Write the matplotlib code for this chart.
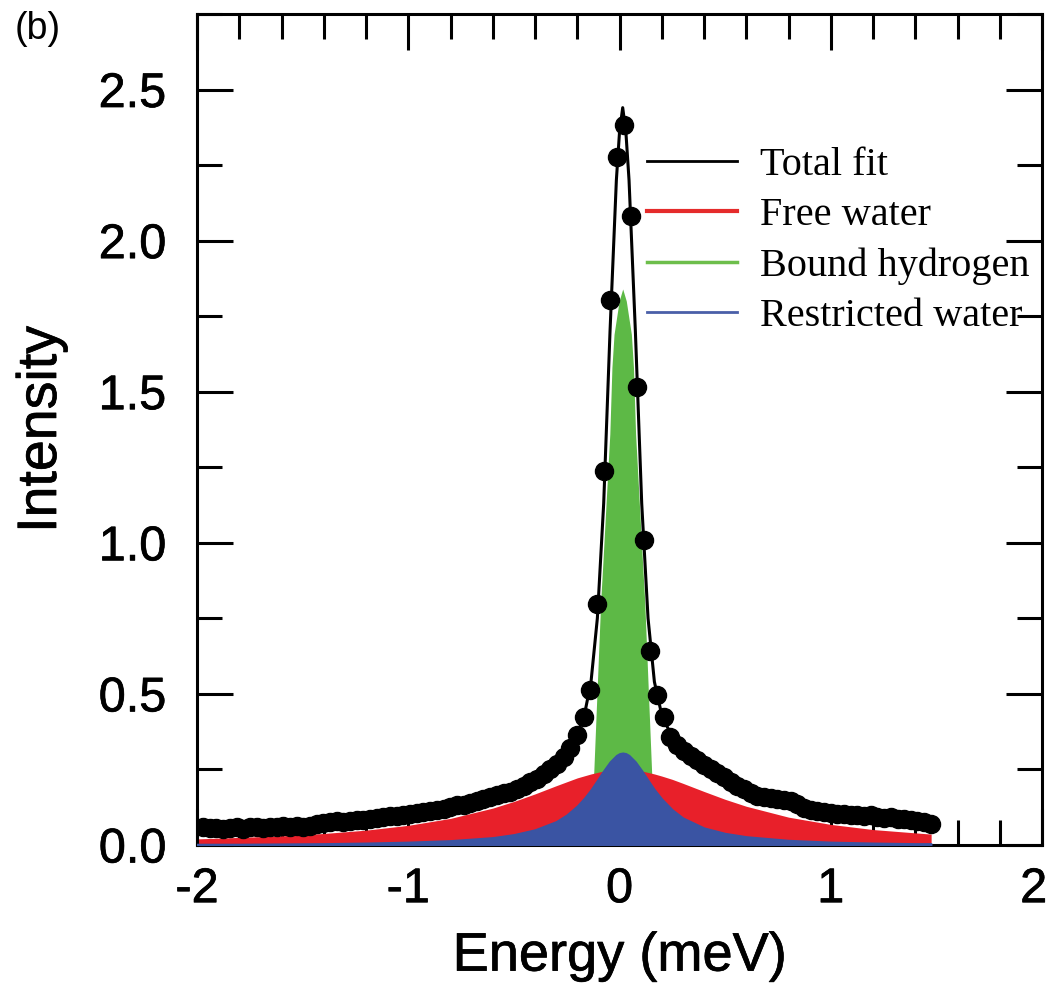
"""QENS spectrum with three-component fit: free water, bound hydrogen, restricted water."""

import matplotlib

matplotlib.use("Agg")

import matplotlib.patheffects as pe
import matplotlib.pyplot as plt
from matplotlib.ticker import FormatStrFormatter, MultipleLocator
from matplotlib.transforms import ScaledTranslation

# measured points (energy in meV, intensity)
data_energy = [
    -1.971, -1.939, -1.908, -1.876, -1.844, -1.813, -1.781, -1.750, -1.718, -1.686,
    -1.655, -1.623, -1.592, -1.560, -1.528, -1.497, -1.465, -1.434, -1.402, -1.370,
    -1.339, -1.307, -1.276, -1.244, -1.212, -1.181, -1.149, -1.118, -1.086, -1.054,
    -1.023, -0.991, -0.960, -0.928, -0.896, -0.865, -0.833, -0.802, -0.770, -0.738,
    -0.707, -0.675, -0.644, -0.612, -0.580, -0.549, -0.517, -0.486, -0.454, -0.422,
    -0.391, -0.359, -0.328, -0.296, -0.264, -0.233, -0.201, -0.170, -0.138, -0.106,
    -0.075, -0.043, -0.012, 0.020, 0.052, 0.083, 0.115, 0.146, 0.178, 0.210,
    0.241, 0.273, 0.304, 0.336, 0.368, 0.399, 0.431, 0.462, 0.494, 0.526,
    0.557, 0.589, 0.620, 0.652, 0.684, 0.715, 0.747, 0.778, 0.810, 0.842,
    0.873, 0.905, 0.936, 0.968, 1.000, 1.031, 1.063, 1.094, 1.126, 1.158,
    1.189, 1.221, 1.252, 1.284, 1.316, 1.347, 1.379, 1.410, 1.442, 1.474,
]
data_intensity = [
    0.058, 0.055, 0.057, 0.053, 0.056, 0.058, 0.054, 0.059, 0.060, 0.057,
    0.061, 0.059, 0.063, 0.060, 0.064, 0.058, 0.062, 0.071, 0.074, 0.076,
    0.078, 0.077, 0.080, 0.083, 0.081, 0.086, 0.089, 0.092, 0.095, 0.097,
    0.099, 0.103, 0.106, 0.108, 0.112, 0.117, 0.120, 0.125, 0.131, 0.133,
    0.139, 0.146, 0.151, 0.158, 0.165, 0.171, 0.176, 0.186, 0.196, 0.207,
    0.219, 0.234, 0.250, 0.268, 0.292, 0.320, 0.365, 0.424, 0.513, 0.797,
    1.237, 1.805, 2.278, 2.381, 2.080, 1.515, 1.009, 0.642, 0.496, 0.424,
    0.358, 0.330, 0.310, 0.295, 0.282, 0.265, 0.252, 0.238, 0.226, 0.210,
    0.196, 0.184, 0.172, 0.163, 0.160, 0.156, 0.152, 0.150, 0.146, 0.135,
    0.122, 0.117, 0.112, 0.108, 0.105, 0.104, 0.101, 0.098, 0.100, 0.096,
    0.099, 0.094, 0.090, 0.092, 0.087, 0.085, 0.082, 0.079, 0.076, 0.071,
]

# fit curves sampled on a shared energy grid
fit_energy = [
    -2.0, -1.8, -1.6, -1.4, -1.2, -1.0, -0.8, -0.6, -0.5, -0.4,
    -0.3, -0.25, -0.2, -0.165, -0.135, -0.105, -0.075, -0.045, -0.015, 0.0,
    0.015, 0.03, 0.045, 0.075, 0.105, 0.135, 0.165, 0.2, 0.25, 0.3,
    0.4, 0.5, 0.6, 0.8, 1.0, 1.2, 1.4, 1.475,
]
total_fit = [
    0.055, 0.060, 0.063, 0.075, 0.083, 0.101, 0.125, 0.160, 0.180, 0.212,
    0.262, 0.300, 0.365, 0.435, 0.540, 0.750, 1.130, 1.700, 2.200, 2.360,
    2.440, 2.360, 2.200, 1.700, 1.130, 0.750, 0.540, 0.430, 0.355, 0.310,
    0.265, 0.225, 0.175, 0.145, 0.105, 0.097, 0.082, 0.072,
]
free_water = [
    0.020, 0.025, 0.030, 0.038, 0.049, 0.065, 0.088, 0.122, 0.144, 0.169,
    0.196, 0.209, 0.222, 0.229, 0.235, 0.240, 0.245, 0.248, 0.249, 0.250,
    0.250, 0.250, 0.249, 0.248, 0.245, 0.240, 0.235, 0.228, 0.217, 0.204,
    0.177, 0.151, 0.128, 0.092, 0.068, 0.051, 0.040, 0.036,
]
restricted_water = [
    0.003, 0.003, 0.004, 0.005, 0.007, 0.010, 0.015, 0.025, 0.035, 0.051,
    0.078, 0.100, 0.130, 0.157, 0.184, 0.215, 0.247, 0.276, 0.297, 0.303,
    0.305, 0.303, 0.297, 0.276, 0.247, 0.215, 0.184, 0.153, 0.117, 0.090,
    0.057, 0.039, 0.028, 0.016, 0.010, 0.007, 0.005, 0.005,
]

# bound hydrogen is narrow, so it gets its own finer grid
bound_energy = [
    -0.185, -0.145, -0.122, -0.089, -0.080, -0.053, -0.046, -0.036, -0.026, -0.002,
    0.015, 0.032, 0.056, 0.066, 0.076, 0.083, 0.110, 0.119, 0.152, 0.175, 0.215,
]
bound_hydrogen = [
    0.00, 0.05, 0.24, 0.81, 0.92, 1.27, 1.36, 1.58, 1.69, 1.80,
    1.84, 1.80, 1.69, 1.58, 1.36, 1.27, 0.92, 0.81, 0.24, 0.05, 0.00,
]

RED = "#e8202a"
GREEN = "#5db946"
BLUE = "#3a54a3"

plt.rcParams["font.family"] = ["Liberation Sans", "DejaVu Sans"]
plt.rcParams["axes.unicode_minus"] = False

fig = plt.figure(figsize=(10.53, 9.84), dpi=100)
ax = fig.add_axes([0.1871, 0.1413, 0.8025, 0.8445])

ax.fill_between(bound_energy, 0, bound_hydrogen, color=GREEN, lw=0, zorder=1)
ax.fill_between(fit_energy, 0, free_water, color=RED, lw=0, zorder=2)
ax.fill_between(fit_energy, 0, restricted_water, facecolor=BLUE, edgecolor=BLUE, lw=1.2, zorder=3)
ax.plot(data_energy, data_intensity, "o", color="black", ms=13, zorder=4)
ax.plot(fit_energy, total_fit, color="black", lw=2.2, zorder=5)

# legend handles only
ax.plot([], [], color="black", lw=2.0, label="Total fit")
ax.plot([], [], color="#e52b2b", lw=3.0, label="Free water")
ax.plot([], [], color="#6dbe4b", lw=2.5, label="Bound hydrogen")
ax.plot([], [], color="#4a5fa8", lw=2.0, label="Restricted water")
handles, labels = ax.get_legend_handles_labels()
ax.legend(
    handles[-4:],
    labels[-4:],
    loc="center left",
    bbox_to_anchor=(0.599, 0.7551),
    bbox_transform=fig.transFigure,
    frameon=False,
    prop={"family": ["Liberation Serif", "DejaVu Serif"], "size": 29},
    handlelength=2.24,
    handletextpad=0.57,
    labelspacing=0.32,
    borderaxespad=0,
)

ax.set_xlim(-2, 2)
ax.set_ylim(0, 2.75)
ax.xaxis.set_major_locator(MultipleLocator(1))
ax.xaxis.set_minor_locator(MultipleLocator(0.2))
ax.yaxis.set_major_locator(MultipleLocator(0.5))
ax.yaxis.set_minor_locator(MultipleLocator(0.25))
ax.yaxis.set_major_formatter(FormatStrFormatter("%.1f"))

ax.tick_params(which="both", direction="in", top=True, right=True, width=2.2)
ax.tick_params(which="major", length=26, labelsize=35)
ax.tick_params(which="minor", length=18)
ax.tick_params(axis="x", which="major", pad=16)
ax.tick_params(axis="y", which="major", pad=22)
for spine in ax.spines.values():
    spine.set_linewidth(2.2)

# the scanned labels look a little heavier than plain Liberation Sans
heavy = [pe.withStroke(linewidth=0.5, foreground="black")]
for lbl in ax.get_xticklabels() + ax.get_yticklabels():
    lbl.set_path_effects(heavy)

ax.set_xlabel("Energy (meV)", fontsize=39, labelpad=14, path_effects=heavy)
ax.set_ylabel("Intensity", fontsize=40, labelpad=22, path_effects=heavy)

fig.text(15 / 1053, 1 - 11 / 984, "(b)", fontsize=27, ha="left", va="top")

# the last x label sits right on the figure edge; nudge it inside a little
fig.canvas.draw()
for tick in ax.xaxis.get_major_ticks():
    if tick.label1.get_text() == "2":
        tick.label1.set_transform(
            tick.label1.get_transform() + ScaledTranslation(-6 / 72, 0, fig.dpi_scale_trans)
        )

fig.savefig("out.png", dpi=100)
